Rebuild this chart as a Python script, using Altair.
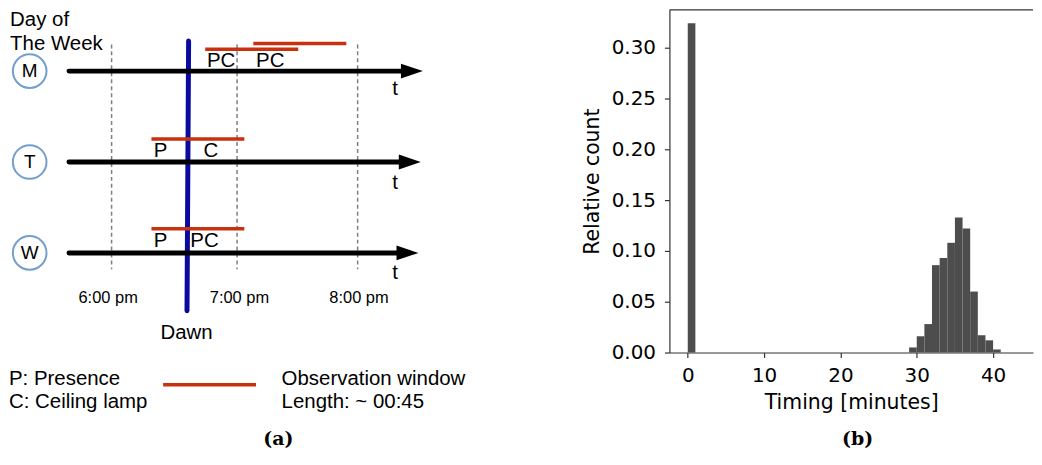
import altair as alt
import pandas as pd

# ================= panel (a): schematic of the observation windows =================
# x is clock time in hours (18 = 6:00 pm), y is the lane of the day (0 = Monday ...)
days = ["M", "T", "W"]
day_lane = [0, 1, 2]
circle_x = [17.334, 17.334, 17.334]

axis_start = [17.654, 17.654, 17.654]
axis_end = [20.381, 20.381, 20.381]
arrow_head_x = [20.441, 20.424, 20.405]

hour_marks = [18.0, 19.02, 20.0]
hour_line_top = [-0.294, -0.294, -0.294]
hour_line_bottom = [2.179, 2.179, 2.179]
hour_labels = ["6:00 pm", "7:00 pm", "8:00 pm"]
hour_label_x = [17.972, 19.039, 20.011]
hour_label_y = [2.556, 2.556, 2.556]

dawn_x = [18.626]
dawn_x2 = [18.613]
dawn_y = [-0.331]
dawn_y2 = [2.636]
dawn_label_x = [18.609]
dawn_label_y = [2.946]

win_start = [18.761, 19.152, 18.324, 18.324]
win_end = [19.517, 19.908, 19.079, 19.079]
win_y = [-0.241, -0.305, 0.747, 1.734]

event_text = ["PC", "PC", "P", "C", "P", "PC"]
event_x = [18.775, 19.174, 18.343, 18.747, 18.343, 18.640]
event_y = [-0.042, -0.042, 0.945, 0.945, 1.931, 1.931]

t_x = [20.281, 20.281, 20.281]
t_y = [0.261, 1.302, 2.288]

header_text = ["Day of", "The Week"]
header_x = [17.175, 17.175]
header_y = [-0.674, -0.411]

legend_left_text = ["P: Presence", "C: Ceiling lamp"]
legend_left_x = [17.166, 17.166]
legend_right_text = ["Observation window", "Length: ~ 00:45"]
legend_right_x = [19.382, 19.382]
legend_text_y = [3.458, 3.710]
legend_line_x = [18.419]
legend_line_x2 = [19.174]
legend_line_y = [3.450]

caption_a_x = [19.355]
caption_a_y = [4.115]

# ================= panel (b): histogram =================
bin_start = [0, 29, 30, 31, 32, 33, 34, 35, 36, 37, 38, 39, 40]
bin_end = [1, 30, 31, 32, 33, 34, 35, 36, 37, 38, 39, 40, 41]
rel_count = [0.324, 0.005, 0.016, 0.028, 0.086, 0.093, 0.108, 0.133, 0.122,
             0.060, 0.017, 0.012, 0.003]
x_ticks = [0, 10, 20, 30, 40]
y_ticks = [0.0, 0.05, 0.10, 0.15, 0.20, 0.25, 0.30]
caption_b_x = 22.26
caption_b_y = -0.0912

# ---------------- styles ----------------
SANS = "Liberation Sans"
RED = "#c9300e"
BLUE = "#0a0a9f"
CIRCLE = "#729fcf"

LW, LH = 520, 430
XS = alt.Scale(domain=[17.166, 21.3765], nice=False, zero=False)
YS = alt.Scale(domain=[-0.674, 4.0384], reverse=True, nice=False, zero=False)


def X(f):
    return alt.X(f, type="quantitative", scale=XS, axis=None)


def Y(f):
    return alt.Y(f, type="quantitative", scale=YS, axis=None)


lanes = pd.DataFrame({"day": days, "lane": day_lane, "cx": circle_x,
                      "x0": axis_start, "x1": axis_end, "hx": arrow_head_x,
                      "tx": t_x, "ty": t_y})
hours = pd.DataFrame({"h": hour_marks, "y0": hour_line_top, "y1": hour_line_bottom,
                      "lab": hour_labels, "lx": hour_label_x, "ly": hour_label_y})
dawn = pd.DataFrame({"x": dawn_x, "x2": dawn_x2, "y": dawn_y, "y2": dawn_y2,
                     "lx": dawn_label_x, "ly": dawn_label_y, "t": ["Dawn"]})
wins = pd.DataFrame({"x": win_start + legend_line_x, "x2": win_end + legend_line_x2,
                     "y": win_y + legend_line_y})
events = pd.DataFrame({"t": event_text, "x": event_x, "y": event_y})
header = pd.DataFrame({"t": header_text, "x": header_x, "y": header_y})
legend = pd.DataFrame({"t": legend_left_text + legend_right_text,
                       "x": legend_left_x + legend_right_x,
                       "y": legend_text_y + legend_text_y})
cap_a = pd.DataFrame({"t": ["(a)"], "x": caption_a_x, "y": caption_a_y})

grid_lines = alt.Chart(hours).mark_rule(color="#7f7f7f", strokeWidth=1.5,
                                        strokeDash=[4, 3]).encode(
    x=X("h"), y=Y("y0"), y2="y1")
dawn_line = alt.Chart(dawn).mark_rule(color=BLUE, strokeWidth=5, strokeCap="round").encode(
    x=X("x"), x2="x2", y=Y("y"), y2="y2")
axes_lines = alt.Chart(lanes).mark_rule(color="black", strokeWidth=5, strokeCap="round").encode(
    x=X("x0"), x2="x1", y=Y("lane"))
heads = alt.Chart(lanes).mark_point(shape="M -1 -0.68 L 1 0 L -1 0.68 Z", filled=True,
                                    color="black", opacity=1, size=484).encode(
    x=X("hx"), y=Y("lane"))
red_lines = alt.Chart(wins).mark_rule(color=RED, strokeWidth=3.5).encode(
    x=X("x"), x2="x2", y=Y("y"))
circles = alt.Chart(lanes).mark_point(shape="circle", filled=False, stroke=CIRCLE,
                                      strokeWidth=2, opacity=1, size=1140).encode(
    x=X("cx"), y=Y("lane"))
circle_txt = alt.Chart(lanes).mark_text(font=SANS, fontSize=19, align="center",
                                        baseline="middle", color="black").encode(
    x=X("cx"), y=Y("lane"), text="day")
t_txt = alt.Chart(lanes).mark_text(font=SANS, fontSize=20.5, align="left",
                                   baseline="alphabetic", color="black").encode(
    x=X("tx"), y=Y("ty"), text=alt.value("t"))
event_txt = alt.Chart(events).mark_text(font=SANS, fontSize=20.5, align="left",
                                        baseline="alphabetic", color="black").encode(
    x=X("x"), y=Y("y"), text="t")
hour_txt = alt.Chart(hours).mark_text(font=SANS, fontSize=16.5, align="center",
                                      baseline="alphabetic", color="black").encode(
    x=X("lx"), y=Y("ly"), text="lab")
dawn_txt = alt.Chart(dawn).mark_text(font=SANS, fontSize=20.5, align="center",
                                     baseline="alphabetic", color="black").encode(
    x=X("lx"), y=Y("ly"), text="t")
header_txt = alt.Chart(header).mark_text(font=SANS, fontSize=20.5, align="left",
                                         baseline="top", color="black").encode(
    x=X("x"), y=Y("y"), text="t")
legend_txt = alt.Chart(legend).mark_text(font=SANS, fontSize=20.5, align="left",
                                         baseline="alphabetic", color="black").encode(
    x=X("x"), y=Y("y"), text="t")
cap_a_txt = alt.Chart(cap_a).mark_text(font="DejaVu Serif", fontWeight="bold", fontSize=19,
                                       align="center", baseline="alphabetic",
                                       color="black").encode(
    x=X("x"), y=Y("y"), text="t")

left = alt.layer(grid_lines, dawn_line, axes_lines, heads, red_lines, circles, circle_txt,
                 t_txt, event_txt, hour_txt, dawn_txt, header_txt, legend_txt,
                 cap_a_txt).properties(width=LW, height=LH)

# ---------------- histogram ----------------
RW, RH = 365, 344
HXS = alt.Scale(domain=[-2.4, 45.228], nice=False, zero=False)
HYS = alt.Scale(domain=[0, 0.3373], nice=False)
AX = dict(labelFont="DejaVu Sans", labelFontSize=20, labelColor="black",
          tickColor="#333333", domainColor="#333333", tickSize=5, tickWidth=1.2,
          domainWidth=1.2, grid=False, titleFont="DejaVu Sans", titleFontSize=20.5,
          titleFontWeight="normal", titleColor="black")

hist = pd.DataFrame({"start": bin_start, "end": bin_end, "rel": rel_count})
bars = alt.Chart(hist).mark_rect(color="#4d4d4d").encode(
    x=alt.X("start:Q", scale=HXS, title="Timing [minutes]",
            axis=alt.Axis(values=x_ticks, labelPadding=8, titlePadding=7, **AX)),
    x2="end",
    y=alt.Y("rel:Q", scale=HYS, title="Relative count",
            axis=alt.Axis(values=y_ticks, format=".2f", labelPadding=9, titlePadding=9, **AX)),
    y2=alt.datum(0),
)
top_spine = alt.Chart(pd.DataFrame({"k": [0]})).mark_rule(color="#333333", strokeWidth=1.2).encode(
    x=alt.value(0), x2=alt.value(RW), y=alt.value(0))
cap_b = alt.Chart(pd.DataFrame({"k": [0]})).mark_text(
    font="DejaVu Serif", fontWeight="bold", fontSize=19, align="center",
    baseline="alphabetic", color="black").encode(
    x=alt.datum(caption_b_x), y=alt.datum(caption_b_y), text=alt.value("(b)"))

right = alt.layer(bars, top_spine, cap_b).properties(width=RW, height=RH)

chart = alt.hconcat(left, right, spacing=143, bounds="flush", padding=0).configure_view(stroke=None)

chart.save("out.html", embed_options={"renderer": "svg", "actions": False})
